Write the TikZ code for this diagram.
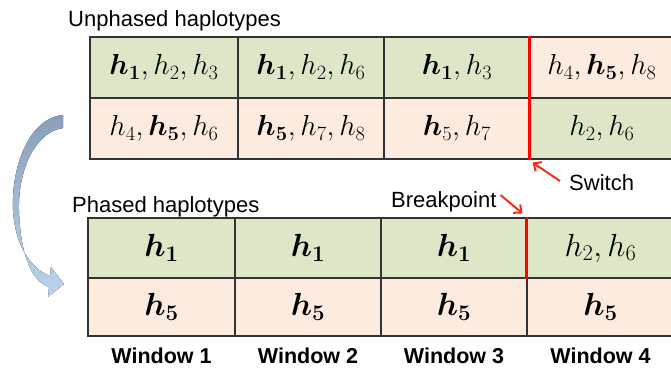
\RequirePackage{fix-cm}
\documentclass[tikz,border=0pt]{standalone}
\usepackage[no-math]{fontspec}
\setmainfont{Liberation Sans}
\usepackage{amsmath,bm}
\usetikzlibrary{arrows.meta,calc}
\definecolor{cgreen}{HTML}{DEE6C8}
\definecolor{cpeach}{HTML}{FDEBDF}
\definecolor{cline}{HTML}{333333}
\definecolor{cred}{HTML}{FF0000}
\definecolor{carrow}{HTML}{FF2A14}
\definecolor{cblueA}{HTML}{8A9EBA}
\definecolor{cblueB}{HTML}{BCD3EE}
\begin{document}
\begin{tikzpicture}[x=1pt,y=-1pt,
  cellbase/.style={draw=cline,line width=1.1pt,inner sep=0pt,anchor=center},
  ucell/.style={cellbase,minimum height=61pt,font=\fontsize{29}{32}\selectfont},
  bcellA/.style={cellbase,minimum height=60pt,font=\fontsize{32}{35}\selectfont},
  bcellB/.style={cellbase,minimum height=58pt,font=\fontsize{32}{35}\selectfont},
  lbl/.style={inner sep=0pt,anchor=base west,font=\fontsize{22}{26}\selectfont},
  wlbl/.style={inner sep=0pt,anchor=base,font=\fontsize{21.5}{26}\selectfont\bfseries},
  redline/.style={draw=cred,line width=2.6pt},
  redarrow/.style={draw=carrow,line width=2pt,-{Straight Barb[length=6pt,width=11pt]}}]
\useasboundingbox (0,0) rectangle (671,369);

% unphased table
\node[ucell,fill=cgreen,minimum width=148pt] (u11) at (164,67.5) {$\bm{h_1}, h_2, h_3$};
\node[ucell,fill=cgreen,minimum width=146pt] (u12) at (311,67.5) {$\bm{h_1}, h_2, h_6$};
\node[ucell,fill=cgreen,minimum width=146pt] (u13) at (457,67.5) {$\bm{h_1}, h_3$};
\node[ucell,fill=cpeach,minimum width=144pt] (u14) at (602,67.5) {$h_4, \bm{h_5}, h_8$};
\node[ucell,fill=cpeach,minimum width=148pt] (u21) at (164,128.5) {$h_4, \bm{h_5}, h_6$};
\node[ucell,fill=cpeach,minimum width=146pt] (u22) at (311,128.5) {$\bm{h_5}, h_7, h_8$};
\node[ucell,fill=cpeach,minimum width=146pt] (u23) at (457,128.5) {$\bm{h}_5, h_7$};
\node[ucell,fill=cgreen,minimum width=144pt] (u24) at (602,128.5) {$h_2, h_6$};
\draw[redline] (u14.north west) -- (u24.south west);

% phased table
\node[bcellA,fill=cgreen,minimum width=147pt] (b11) at (161.5,248) {$\bm{h_1}$};
\node[bcellA,fill=cgreen,minimum width=146pt] (b12) at (308,248) {$\bm{h_1}$};
\node[bcellA,fill=cgreen,minimum width=146pt] (b13) at (454,248) {$\bm{h_1}$};
\node[bcellA,fill=cgreen,minimum width=147pt] (b14) at (600.5,248) {$h_2, h_6$};
\node[bcellB,fill=cpeach,minimum width=147pt] (b21) at (161.5,307) {$\bm{h_5}$};
\node[bcellB,fill=cpeach,minimum width=146pt] (b22) at (308,307) {$\bm{h_5}$};
\node[bcellB,fill=cpeach,minimum width=146pt] (b23) at (454,307) {$\bm{h_5}$};
\node[bcellB,fill=cpeach,minimum width=147pt] (b24) at (600.5,307) {$\bm{h_5}$};
\draw[redline] (b14.north west) -- (b14.south west);

% labels
\node[lbl] (unph) at (68,26.7) {Unphased haplotypes};
\node[lbl] (ph) at (72,212) {Phased haplotypes};
\node[lbl] (bp) at (391,207) {Breakpoint};
\node[lbl] (sw) at (569,190) {Switch};

\node[wlbl] (w1) at (161.5,363) {Window 1};
\node[wlbl] (w2) at (308,363) {Window 2};
\node[wlbl] (w3) at (454,363) {Window 3};
\node[wlbl] (w4) at (600.5,363) {Window 4};

% red arrows
\coordinate (swtip) at ($(u24.south west)+(3,3)$);
\coordinate (bptip) at ($(b14.north west)+(-4,-4)$);
\draw[redarrow] ($(sw.base west)+(-9,-9)$) -- (swtip);
\draw[redarrow] ($(bp.base east)+(4,-12)$) -- (bptip);

% curved arrow
\fill[top color=cblueA,bottom color=cblueB]
  (63,115) .. controls (30,118) and (11,165) .. (13,210)
  .. controls (15,245) and (30,268) .. (50,276)
  -- (51,267) -- (64,284) -- (48,297) -- (49,287)
  .. controls (30,281) and (20,250) .. (19,210)
  .. controls (18,170) and (35,132) .. (63,128) -- cycle;
\end{tikzpicture}
\end{document}
